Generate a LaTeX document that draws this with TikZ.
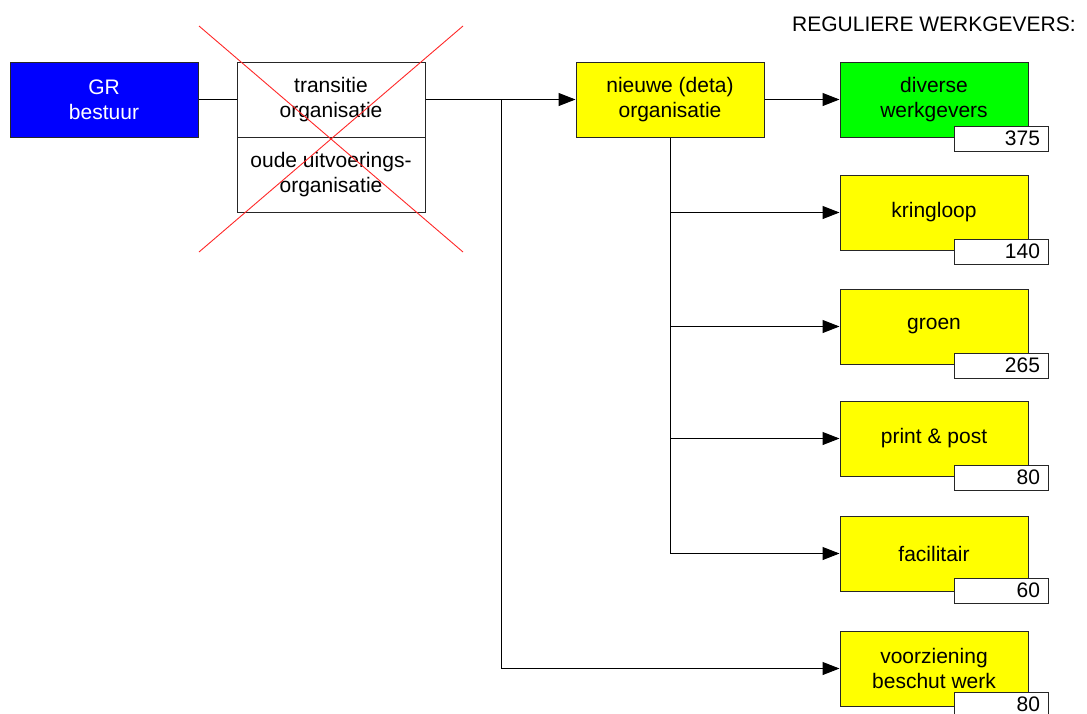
\documentclass[tikz,border=0pt]{standalone}
\usepackage{fontspec}
\setmainfont{Liberation Sans}
\usetikzlibrary{arrows.meta}
\definecolor{boxyellow}{RGB}{255,255,0}
\definecolor{boxgreen}{RGB}{0,255,0}
\definecolor{boxblue}{RGB}{0,0,255}
\definecolor{crossred}{RGB}{255,40,40}
\begin{document}
\begin{tikzpicture}[x=1pt,y=-1pt,
  font=\fontsize{21}{25}\selectfont,
  unit/.style={draw=black!85, line width=1pt, minimum width=188pt, minimum height=75pt,
    inner sep=0pt, align=center},
  yellowunit/.style={unit, fill=boxyellow},
  count/.style={draw=black!85, fill=white, line width=1pt, minimum height=25pt,
    text width=78pt, inner xsep=8pt, inner ysep=0pt, align=right},
  link/.style={line width=1pt},
  arr/.style={link, -{Triangle[length=17pt,width=13pt]}}]
\useasboundingbox (0,0) rectangle (1087,713);
\clip (0,0) rectangle (1087,713);

% heading
\node[anchor=west, inner sep=0pt] (title) at (792,24) {REGULIERE WERKGEVERS:};

% governing body and the old organisation
\node[unit, fill=boxblue, text=white] (gr) at (104,99.5) {GR\\bestuur};
\node[unit, fill=white] (trans) at (331,99.5) {transitie\\organisatie};
\node[unit, fill=white] (oude) at (331,174.5) {oude uitvoerings-\\organisatie};

% new organisation and the target units
\node[yellowunit] (nieuw) at (670,99.5) {nieuwe (deta)\\organisatie};
\node[unit, fill=boxgreen] (divers) at (934,99.5) {diverse\\werkgevers};
\node[yellowunit] (kring) at (934,212.5) {kringloop};
\node[yellowunit] (groen) at (934,326.5) {groen};
\node[yellowunit] (print) at (934,438.5) {print \& post};
\node[yellowunit] (facil) at (934,553.5) {facilitair};
\node[yellowunit] (voorz) at (934,668.5) {voorziening\\beschut werk};

% head counts
\node[count] (ndivers) at (1001,138.5) {375};
\node[count] (nkring) at (1001,251.5) {140};
\node[count] (ngroen) at (1001,365.5) {265};
\node[count] (nprint) at (1001,477.5) {80};
\node[count] (nfacil) at (1001,590.5) {60};
\node[count] (nvoorz) at (1001,704.5) {80};

% connectors
\coordinate (split) at (501,99.5);
\draw[link] (gr.east) -- (trans.west);
\draw[arr] (trans.east) -- (nieuw.west);
\draw[arr] (split) |- (voorz.west);
\draw[arr] (nieuw.east) -- (divers.west);
\draw[arr] (nieuw.south) |- (kring.west);
\draw[arr] (nieuw.south) |- (groen.west);
\draw[arr] (nieuw.south) |- (print.west);
\draw[arr] (nieuw.south) |- (facil.west);

% the old organisation is struck out
\coordinate (xa) at (199,26);
\coordinate (xb) at (463,252);
\coordinate (xc) at (463,26);
\coordinate (xd) at (199,252);
\draw[crossred, line width=0.9pt] (xa) -- (xb);
\draw[crossred, line width=0.9pt] (xc) -- (xd);
\end{tikzpicture}
\end{document}
